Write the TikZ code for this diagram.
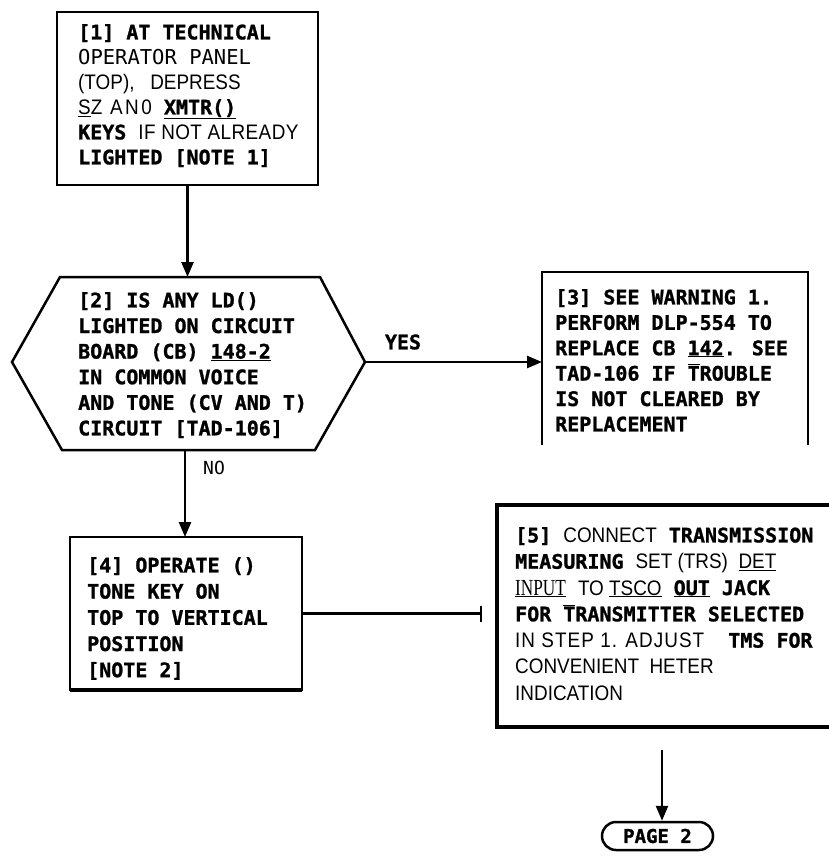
\documentclass[tikz,border=0pt]{standalone}
\usepackage{fontspec}
\setmainfont{Liberation Sans}
\newfontfamily\regf{Liberation Sans}[FakeStretch=0.9]
\newfontfamily\monof{DejaVu Sans Mono}[BoldFeatures={FakeBold=1.2}]
\newfontfamily\seriff{Liberation Serif}[FakeStretch=0.75]
\usetikzlibrary{arrows.meta}
\newcommand\Rg[1]{{\regf\mdseries\fontsize{21}{25}\selectfont #1}}
\newcommand\Md[1]{{\monof\mdseries #1}}
\newcommand\Ovl[1]{$\overline{\hbox{#1}}$}
\tikzset{
  boxshape/.style={inner sep=0pt, outer sep=0pt, anchor=north west},
  txt/.style={inner sep=0pt, anchor=north west, align=left,
    font=\monof\bfseries\fontsize{20}{25.5}\selectfont},
  lbl/.style={inner sep=0pt},
  flow/.style={line width=2.5pt, -{Triangle[length=15pt,width=12pt]}},
}
\begin{document}
\begin{tikzpicture}[x=1pt,y=-1pt]
\useasboundingbox (0,0) rectangle (828,860);

% box 1
\node[boxshape, draw, line width=2.5pt, minimum width=261pt, minimum height=173pt] (b1) at (57,12) {};
\node[txt, font=\monof\bfseries\fontsize{20}{25}\selectfont] (t1) at (78,24) {%
[1] AT TECHNICAL\\
\Md{\fontsize{20.5}{25}\selectfont OPERATOR PANEL}\\
\Rg{(TOP),\ \ \ DEPRESS}\\
\Rg{\addfontfeature{LetterSpace=12}\underline{S}Z AN0} \underline{XMTR()}\\
KEYS \Rg{\addfontfeature{LetterSpace=2}IF NOT ALREADY}\\
LIGHTED [NOTE 1]};

% hexagon (decision 2)
\coordinate (h-tl) at (60,277);
\coordinate (h-tr) at (320,277);
\coordinate (h-right) at (365,362);
\coordinate (h-br) at (315,450);
\coordinate (h-bl) at (62,450);
\coordinate (h-left) at (12,362);
\coordinate (h-top) at (188,277);
\coordinate (h-bot) at (185,450);
\draw[line width=2.5pt, line join=miter] (h-tl) -- (h-tr) -- (h-right) -- (h-br) -- (h-bl) -- (h-left) -- cycle;
\node[txt, font=\monof\bfseries\fontsize{20}{25.6}\selectfont] (t2) at (78,292) {%
[2] IS ANY LD()\\
LIGHTED ON CIRCUIT\\
BOARD (CB) \underline{148-2}\\
IN COMMON VOICE\\
AND TONE (CV AND T)\\
CIRCUIT [TAD-106]};

% box 3 (open bottom)
\node[boxshape, minimum width=266pt, minimum height=173pt] (b3) at (542,272) {};
\draw[line width=2.5pt] (b3.south west) |- (b3.north east) -- (b3.south east);
\node[txt, font=\monof\bfseries\fontsize{20}{25.4}\selectfont] (t3) at (555,289) {%
[3] SEE WARNING 1.\\
PERFORM DLP-554 TO\\
REPLACE CB \underline{142}. SEE\\
TAD-106 IF \Ovl{T}ROUBLE\\
IS NOT CLEARED BY\\
REPLACEMENT};

% box 4
\node[boxshape, draw, line width=2.2pt, minimum width=232pt, minimum height=153pt] (b4) at (70,537) {};
\draw[line width=4pt] (b4.south west) -- (b4.south east);
\node[txt, font=\monof\bfseries\fontsize{20}{26.2}\selectfont] (t4) at (87,557) {%
[4] OPERATE ()\\
TONE KEY ON\\
TOP TO VERTICAL\\
POSITION\\
{}[NOTE 2]};

% box 5 (open right)
\node[boxshape, minimum width=340pt, minimum height=222pt] (b5) at (497,505) {};
\draw[line width=4pt] (b5.north east) -- (b5.north west) -- (b5.south west) -- (b5.south east);
\node[txt, font=\monof\bfseries\fontsize{20}{26.3}\selectfont] (t5) at (515,527) {%
[5] \Rg{CONNECT} TRANSMISSION\\
MEASURING \Rg{SET (TRS)\ \ \underline{DET}}\\
{\seriff\mdseries\fontsize{23}{25}\selectfont\underline{INPUT}} \Rg{TO \underline{TSCO}} \underline{OUT} JACK\\
FOR \Ovl{T}RANSMITTER SELECTED\\
\Rg{\addfontfeature{LetterSpace=5}IN STEP 1. ADJUST}\ \ TMS FOR\\
\Rg{CONVENIENT\ \ HETER}\\
\Rg{INDICATION}};

% terminator
\node[draw, line width=2.5pt, rounded corners=14pt, minimum width=111pt, minimum height=28pt,
      inner sep=0pt, font=\monof\bfseries\fontsize{19}{22}\selectfont] (p2) at (657.5,836) {PAGE 2};

% connectors
\draw[flow] (b1.south) -- (b1.south |- h-top);
\draw[flow] (h-right) -- (h-right -| b3.west);
\node[lbl, font=\monof\bfseries\fontsize{20}{24}\selectfont] (yes) at (403,342) {YES};
\draw[flow] (h-bot) -- (h-bot |- b4.north);
\node[lbl, font=\monof\mdseries\fontsize{18}{22}\selectfont] (no) at (214,468) {NO};
\coordinate (tee) at (482,615);
\draw[line width=2.2pt, -{Bar[width=16pt,line width=2.5pt]}] (b4.east) -- (b4.east -| tee);
\coordinate (a5) at (662,750);
\draw[flow] (a5) -- (a5 |- p2.north);
\end{tikzpicture}
\end{document}
